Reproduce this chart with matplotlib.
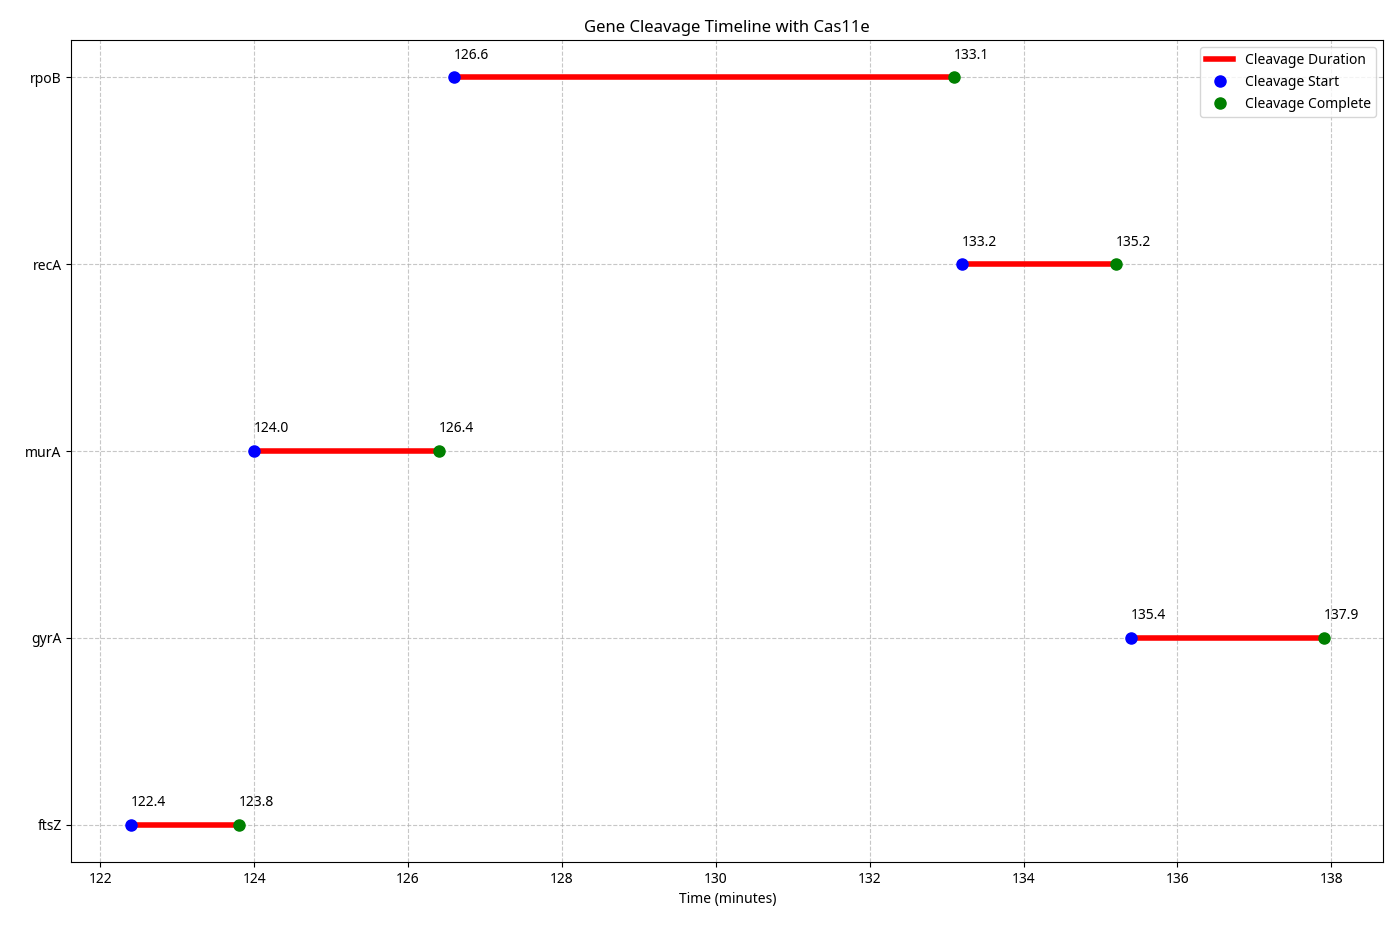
import matplotlib
matplotlib.use("Agg")
import matplotlib.pyplot as plt

plt.rcParams['font.family'] = ['Noto Sans', 'DejaVu Sans']

genes = ["ftsZ", "gyrA", "murA", "recA", "rpoB"]
starts = [122.4, 135.4, 124.0, 133.2, 126.6]
ends = [123.8, 137.9, 126.4, 135.2, 133.1]

fig, ax = plt.subplots(figsize=(14, 9.33), dpi=100)
for i, (g, s, e) in enumerate(zip(genes, starts, ends)):
    ax.plot([s, e], [i, i], color='red', lw=4, label='Cleavage Duration' if i == 0 else None)
    ax.plot(s, i, 'o', color='blue', ms=8, label='Cleavage Start' if i == 0 else None)
    ax.plot(e, i, 'o', color='green', ms=8, label='Cleavage Complete' if i == 0 else None)
    ax.text(s, i + 0.1, f"{s:.1f}", fontsize=10)
    ax.text(e, i + 0.1, f"{e:.1f}", fontsize=10)

ax.set_yticks(range(len(genes)))
ax.set_yticklabels(genes)
ax.set_xlabel("Time (minutes)")
ax.set_title("Gene Cleavage Timeline with Cas11e")
ax.grid(True, linestyle='--', alpha=0.7)
ax.legend(loc='upper right')
fig.subplots_adjust(left=0.051, right=0.988, top=0.957, bottom=0.076)
fig.savefig("out.png")
